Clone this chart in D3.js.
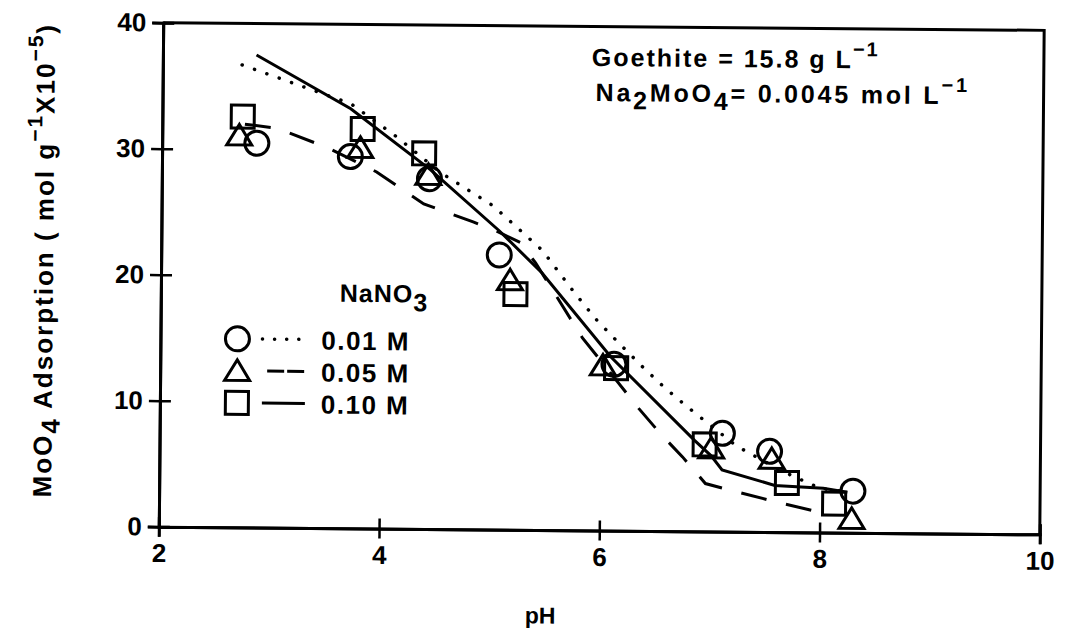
<!DOCTYPE html>
<html>
<head>
<meta charset="utf-8">
<script src="https://cdn.jsdelivr.net/npm/d3@7"></script>
<style>
  body { margin: 0; background: #fff; }
  text { font-family: "Liberation Sans", Arial, sans-serif; font-weight: bold; fill: #000; }
</style>
</head>
<body>
<svg width="1076" height="641"></svg>
<script>
// measured points (pH, MoO4 adsorption x10^-5 mol/g)
const pH01 = [2.86, 3.71, 4.43, 5.07, 6.12, 7.11, 7.54, 8.30];
const ads01 = [30.5, 29.5, 27.8, 21.8, 13.2, 7.8, 6.4, 3.3];
const pH05 = [2.70, 3.80, 4.42, 5.17, 6.02, 7.01, 7.56, 8.29];
const ads05 = [31.1, 30.2, 28.1, 19.8, 13.1, 6.6, 5.8, 1.1];
const pH10 = [2.73, 3.82, 4.38, 5.22, 6.14, 6.95, 7.70, 8.13];
const ads10 = [32.6, 31.7, 29.8, 18.7, 12.9, 6.9, 3.9, 2.3];

// fitted curves
const curvePH01 = [2.72, 3.71, 4.13, 4.53, 5.01, 5.46, 5.76, 5.96, 6.15, 6.37, 6.58, 6.80, 7.24, 7.64, 8.0, 8.28];
const curveAds01 = [36.7, 33.7, 31.1, 28.3, 25.7, 22.2, 18.8, 16.7, 15.0, 13.1, 11.4, 9.8, 6.8, 4.9, 3.5, 3.2];
const curvePH05 = [2.75, 3.04, 3.50, 3.95, 4.38, 4.83, 5.04, 5.26, 5.40, 5.83, 6.35, 6.55, 6.75, 6.96, 7.18, 7.60, 8.05];
const curveAds05 = [32.0, 31.7, 30.2, 28.3, 25.8, 24.4, 23.7, 22.8, 21.2, 15.3, 9.7, 7.7, 5.9, 3.8, 3.3, 2.4, 1.5];
const curvePH10 = [2.85, 3.71, 4.44, 5.07, 5.46, 6.09, 6.86, 7.01, 7.11, 7.59, 8.03, 8.25];
const curveAds10 = [37.5, 33.3, 28.5, 23.7, 20.4, 13.8, 7.2, 6.0, 4.9, 3.7, 3.5, 3.2];

const xTicks = [2, 4, 6, 8, 10];
const yTicks = [0, 10, 20, 30, 40];
const labels = ["0.01 M", "0.05 M", "0.10 M"];
const shapes = ["circle", "triangle", "square"];
const dashes = ["0.1 13", "26 20", null];

const svg = d3.select("svg"),
    width = +svg.attr("width"),
    height = +svg.attr("height");

// the scan is tilted a little
const g = svg.append("g")
    .attr("transform", "rotate(0.5, 600, 277)");

const x = d3.scaleLinear().domain([2, 10]).range([161, 1042]);
const y = d3.scaleLinear().domain([0, 40]).range([530.5, 26.5]);

// frame
g.append("path")
    .attr("d", `M${x(2)},${y(40)}H${x(10)}V${y(0)}`)
    .attr("fill", "none")
    .attr("stroke", "#000")
    .attr("stroke-width", 3);

// axes with crossing ticks
g.append("g")
    .attr("transform", `translate(0,${y(0)})`)
    .call(d3.axisBottom(x).tickValues(xTicks).tickSize(10).tickPadding(7));
g.append("g")
    .attr("transform", `translate(0,${y(0)})`)
    .call(d3.axisTop(x).tickValues(xTicks).tickSize(10).tickFormat(""));
g.append("g")
    .attr("transform", `translate(${x(2)},0)`)
    .call(d3.axisLeft(y).tickValues(yTicks).tickSize(11).tickPadding(6));
g.append("g")
    .attr("transform", `translate(${x(2)},0)`)
    .call(d3.axisRight(y).tickValues(yTicks).tickSize(11).tickFormat(""));

g.selectAll(".domain").attr("stroke-width", 3);
g.selectAll(".tick line").attr("stroke-width", 2.5);
g.selectAll(".tick text")
    .attr("font-size", null)
    .style("font-size", "26px")
    .style("font-weight", "bold")
    .style("font-family", "'Liberation Sans', Arial, sans-serif");

// curves
const line = d3.line().x(d => x(d[0])).y(d => y(d[1]));
const curves = [
  d3.zip(curvePH01, curveAds01),
  d3.zip(curvePH05, curveAds05),
  d3.zip(curvePH10, curveAds10)
];
curves.forEach((c, i) => {
  g.append("path")
    .datum(c)
    .attr("d", line)
    .attr("fill", "none")
    .attr("stroke", "#000")
    .attr("stroke-width", i == 0 ? 3.5 : 3)
    .attr("stroke-linecap", i == 0 ? "round" : "butt")
    .attr("stroke-dasharray", dashes[i]);
});

// markers
function marker(sel, shape) {
  if (shape == "circle") {
    sel.append("circle").attr("r", 12);
  } else if (shape == "triangle") {
    sel.append("path").attr("d", "M0,-11L12.5,9.5L-12.5,9.5Z");
  } else {
    sel.append("rect").attr("x", -11.5).attr("y", -11.5).attr("width", 23).attr("height", 23);
  }
  sel.selectAll("*").attr("fill", "none").attr("stroke", "#000").attr("stroke-width", 3);
}

const points = [
  d3.zip(pH01, ads01),
  d3.zip(pH05, ads05),
  d3.zip(pH10, ads10)
];
points.forEach((pts, i) => {
  g.append("g").selectAll("g")
    .data(pts)
    .join("g")
      .attr("transform", d => `translate(${x(d[0])},${y(d[1])})`)
      .each(function() { marker(d3.select(this), shapes[i]); });
});

// legend
const legendTitle = g.append("text")
    .attr("x", 340).attr("y", 304)
    .style("font-size", "25px")
    .style("letter-spacing", "1px");
legendTitle.append("tspan").text("NaNO");
legendTitle.append("tspan").attr("dy", 9).text("3");

labels.forEach((lab, i) => {
  const cy = 342 + i * 32;
  const row = g.append("g");
  const m = row.append("g").attr("transform", `translate(238,${cy})`);
  marker(m, shapes[i]);
  row.append("line")
    .attr("x1", i == 1 ? 268 : 263).attr("x2", 306)
    .attr("y1", cy).attr("y2", cy)
    .attr("stroke", "#000")
    .attr("stroke-width", i == 0 ? 3.5 : 3)
    .attr("stroke-linecap", i == 0 ? "round" : "butt")
    .attr("stroke-dasharray", i == 0 ? "0.1 12" : (i == 1 ? "17 3" : null));
  row.append("text")
    .attr("x", 322).attr("y", cy + 10)
    .style("font-size", "26px")
    .style("letter-spacing", "1.5px")
    .text(lab);
});

// conditions text
const t1 = g.append("text").attr("x", 590).attr("y", 66)
    .style("font-size", "25px").style("letter-spacing", "2px");
t1.append("tspan").text("Goethite = 15.8 g L");
t1.append("tspan").attr("dy", -12).style("font-size", "20px").text("\u22121");

const t2 = g.append("text").attr("x", 594).attr("y", 101)
    .style("font-size", "25px").style("letter-spacing", "2.8px");
t2.append("tspan").text("Na");
t2.append("tspan").attr("dy", 8).text("2");
t2.append("tspan").attr("dy", -8).text("MoO");
t2.append("tspan").attr("dy", 8).text("4");
t2.append("tspan").attr("dy", -8).text("= 0.0045 mol L");
t2.append("tspan").attr("dy", -12).style("font-size", "20px").text("\u22121");

// axis titles
g.append("text")
    .attr("x", 543).attr("y", 624)
    .attr("text-anchor", "middle")
    .style("font-size", "23px")
    .text("pH");

const yl = g.append("text")
    .attr("transform", "translate(53,265) rotate(-90)")
    .attr("text-anchor", "middle")
    .style("font-size", "26px")
    .style("letter-spacing", "2px");
yl.append("tspan").text("MoO");
yl.append("tspan").attr("dy", 8).text("4");
yl.append("tspan").attr("dy", -8).text(" Adsorption ( mol g");
yl.append("tspan").attr("dy", -12).style("font-size", "21px").text("\u22121");
yl.append("tspan").attr("dy", 12).text("X10");
yl.append("tspan").attr("dy", -12).style("font-size", "21px").text("\u22125");
yl.append("tspan").attr("dy", 12).text(")");
</script>
</body>
</html>
